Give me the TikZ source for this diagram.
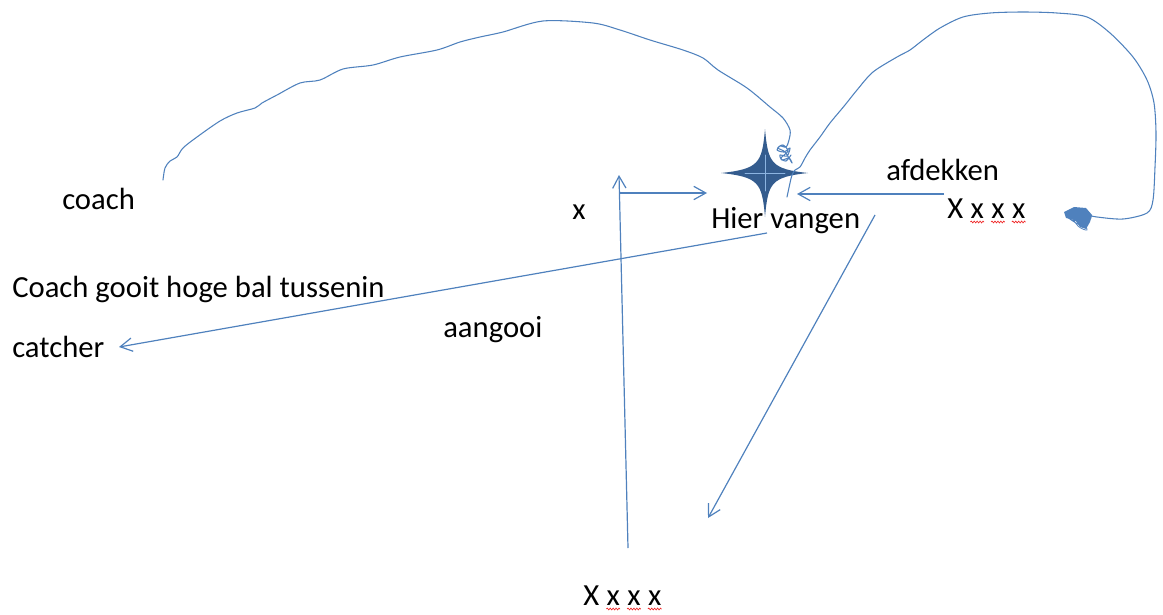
\documentclass[tikz,border=0pt]{standalone}
\usepackage{fontspec}
\setmainfont{Carlito}
\usetikzlibrary{arrows.meta,decorations.pathmorphing}
\definecolor{lineblue}{RGB}{79,129,189}
\definecolor{stardark}{RGB}{52,92,142}
\definecolor{starlight}{RGB}{140,180,225}
\definecolor{wavyred}{RGB}{240,40,40}
\tikzset{
  txt/.style={font=\fontsize{23}{27}\selectfont, text=black, inner sep=0pt, anchor=base west},
  conn/.style={draw=lineblue, line width=0.9pt, -{Straight Barb[length=9pt,width=10pt]}},
  sketch/.style={draw=lineblue, line width=0.8pt, line join=round, line cap=round},
  wavy/.style={draw=wavyred, line width=0.5pt, decorate, decoration={snake, amplitude=0.7pt, segment length=2.2pt}},
}
\begin{document}
\begin{tikzpicture}[x=0.75pt,y=-0.75pt]
\useasboundingbox (0,0) rectangle (1163,614);

% texts
\node[txt] (coach) at (62,209) {coach};
\node[txt] (gooit) at (12,297) {Coach gooit hoge bal tussenin};
\node[txt] (catcher) at (12,357) {catcher};
\node[txt] (xlab) at (572,219) {x};
\node[txt] (aangooi) at (443,337) {aangooi};
\node[txt] (hier) at (711,228) {Hier vangen};
\node[txt] (afdekken) at (886,180) {afdekken};

% right group X x x x
\node[txt] (r0) at (947,218) {X};
\node[txt] (r1) at ([xshift=5.2pt]r0.base east) {x};
\node[txt] (r2) at ([xshift=5.2pt]r1.base east) {x};
\node[txt] (r3) at ([xshift=5.2pt]r2.base east) {x};
\foreach \n in {r1,r2,r3}
  \draw[wavy] ([yshift=-3pt]\n.base west) -- ([yshift=-3pt]\n.base east);

% bottom group X x x x
\node[txt] (b0) at (583,605) {X};
\node[txt] (b1) at ([xshift=5.2pt]b0.base east) {x};
\node[txt] (b2) at ([xshift=5.2pt]b1.base east) {x};
\node[txt] (b3) at ([xshift=5.2pt]b2.base east) {x};
\foreach \n in {b1,b2,b3}
  \draw[wavy] ([yshift=-3pt]\n.base west) -- ([yshift=-3pt]\n.base east);

% star
\coordinate (star) at (765,173);
\fill[stardark] (765,129) .. controls (768,163) and (771,169) .. (808,173)
  .. controls (771,177) and (768,183) .. (765,217)
  .. controls (762,183) and (759,177) .. (721,173)
  .. controls (759,169) and (762,163) .. cycle;
\draw[starlight, line width=0.5pt, line cap=round] (765,155) -- (765,191);
\draw[starlight, line width=0.5pt, line cap=round] (745,173) -- (785,173);

% arrow end points
\coordinate (vB) at (628,548);
\coordinate (vT) at (619,175);
\coordinate (hS) at (619,193);
\coordinate (hE) at (707,193);
\coordinate (aS) at (944,194);
\coordinate (aE) at (797,194);
\coordinate (cS) at (767,233);
\coordinate (cE) at (119,347);
\coordinate (dS) at (875,215);
\coordinate (dE) at (708,518);

\draw[conn] (vB) -- (vT);
\draw[conn] (hS) -- (hE);
\draw[conn] (aS) -- (aE);
\draw[conn] (cS) -- (cE);
\draw[conn] (dS) -- (dE);

% hand-drawn curve from coach to star
\draw[sketch] plot[smooth, tension=0.5] coordinates {
 (163,180) (165,168) (170,161) (177,157) (183,148) (197,137) (220,121) (237,113)
 (255,108) (262,103) (277,95) (300,83) (320,80) (343,69) (373,65) (400,57)
 (437,50) (460,42) (480,37) (503,32) (543,21) (593,23) (620,30) (650,40)
 (683,50) (703,58) (718,70) (747,88) (770,107) (783,118) (790,130) (789,140) (786,147)
 (780,146) (777,150) (784,152) (790,148) (787,156) (780,155) (782,160) (789,158)
 (792,163) (785,152) (778,148) (783,145) (788,151) (781,158) (786,161) (791,155)};

% hand-drawn curve from star to right group
\draw[sketch] plot[smooth, tension=0.5] coordinates {
 (787,197) (790,183) (792,175) (795,170) (800,167) (805,158) (810,150) (820,137)
 (830,123) (845,105) (857,90) (873,72) (897,57) (910,50) (923,40) (940,28)
 (963,17) (990,13) (1023,12) (1057,13) (1087,17) (1110,33) (1133,57) (1147,80)
 (1154,103) (1156,133) (1155,167) (1153,200) (1147,213) (1123,219) (1097,217) (1088,215)};
\fill[lineblue] (1092,215) -- (1086,208) -- (1074,207) -- (1064,212) -- (1066,218)
  -- (1075,220) -- (1080,227) -- (1086,229) -- (1090,222) -- cycle;
\draw[sketch, line width=0.6pt] plot[smooth, tension=0.6] coordinates {
 (1088,215) (1080,209) (1068,211) (1070,219) (1082,222) (1087,230) (1078,226)
 (1072,214) (1085,210) (1091,218) (1079,224) (1066,216)};
\end{tikzpicture}
\end{document}
